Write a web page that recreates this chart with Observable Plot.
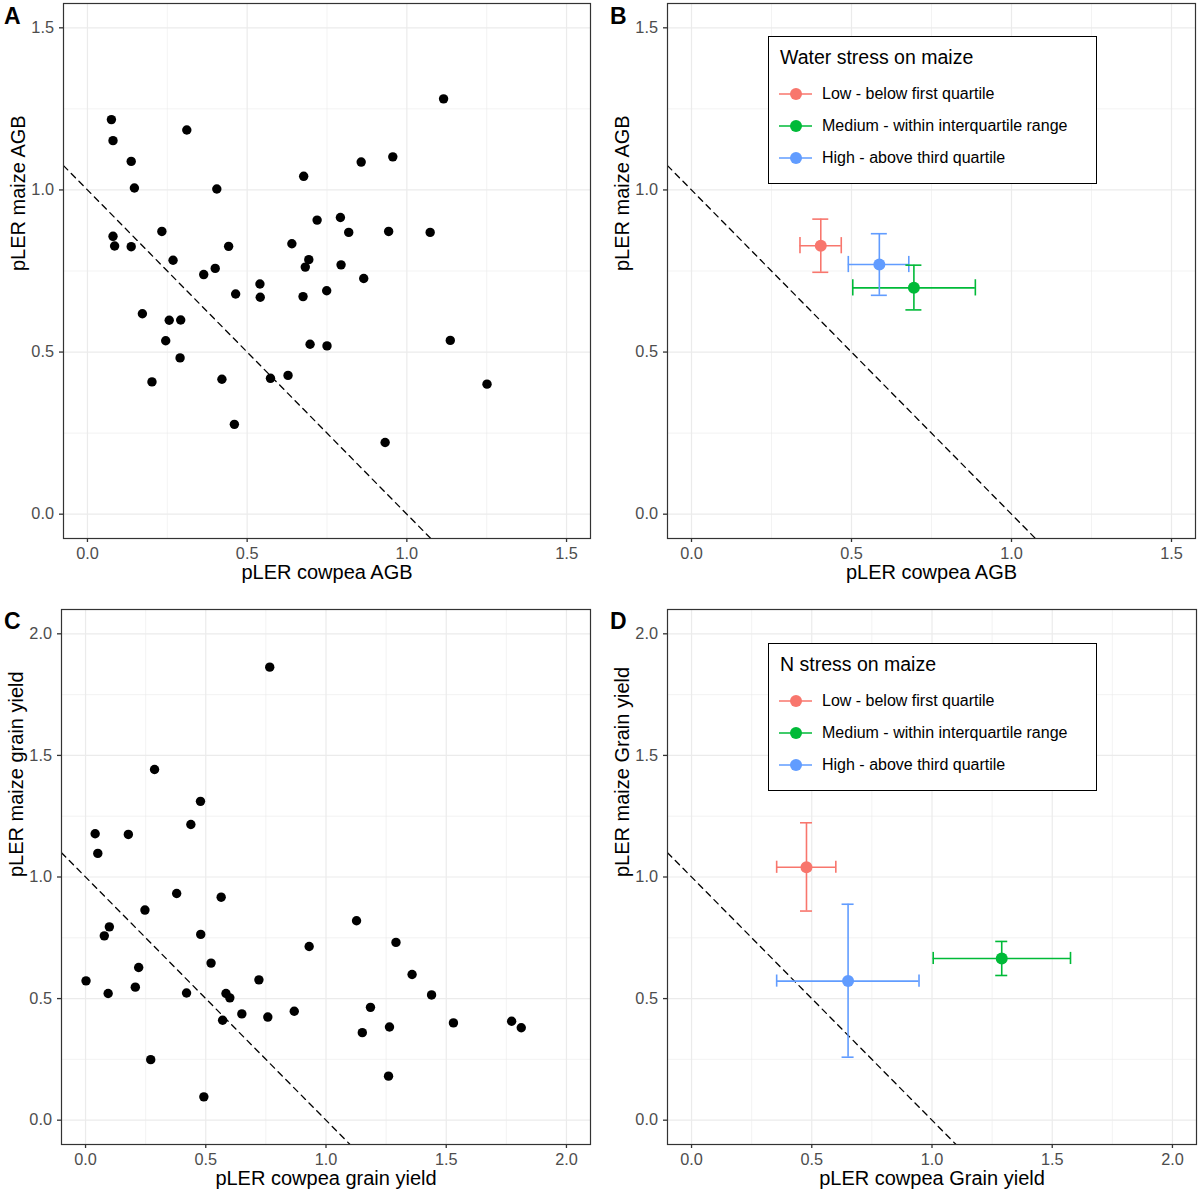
<!DOCTYPE html>
<html>
<head>
<meta charset="utf-8">
<script src="https://cdn.jsdelivr.net/npm/d3@7"></script>
<script src="https://cdn.jsdelivr.net/npm/@observablehq/plot@0.6"></script>
<style>
  html, body { margin: 0; padding: 0; background: #fff; }
  #root { position: relative; width: 1200px; height: 1197px; background: #fff; font-family: "Liberation Sans", Arial, sans-serif; }
  .pnl { position: absolute; }
  .letter { position: absolute; font-weight: bold; font-size: 23px; line-height: 1; color: #000; }
  .legend { position: absolute; border: 1.6px solid #000; background: #fff; box-sizing: border-box; }
  .legend .ttl { position: absolute; left: 11px; font-size: 19.5px; line-height: 1; }
  .legend .row { position: absolute; left: 8px; height: 20px; }
  .legend .row svg { position: absolute; left: 0; top: 0; }
  .legend .row span { position: absolute; left: 45px; top: 1px; font-size: 16px; line-height: 18px; white-space: nowrap; }
</style>
</head>
<body>
<div id="root"></div>
<script>
// ---------- data ----------
// Panel A: pLER cowpea AGB vs pLER maize AGB
const A_cowpea = [1.115,0.075,0.080,0.311,0.137,0.147,0.405,0.677,0.857,0.956,0.719,0.792,0.818,0.943,1.073,0.233,0.080,0.085,0.137,0.442,0.640,0.268,0.693,0.682,0.794,0.400,0.364,0.865,0.749,0.540,0.464,0.541,0.675,
                  0.172,0.256,0.292,0.245,0.290,0.202,0.421,0.573,0.628,0.697,0.750,1.136,1.251,0.460,0.932];
const A_maize  = [1.281,1.217,1.152,1.185,1.088,1.006,1.003,1.042,1.086,1.102,0.907,0.915,0.869,0.872,0.869,0.872,0.857,0.827,0.825,0.826,0.834,0.783,0.785,0.762,0.769,0.758,0.739,0.727,0.689,0.710,0.679,0.669,0.671,
                  0.618,0.598,0.599,0.535,0.482,0.408,0.416,0.419,0.428,0.524,0.519,0.536,0.401,0.277,0.221];

// Panel C: pLER cowpea grain yield vs pLER maize grain yield
const C_cowpea = [0.766,0.287,0.478,0.438,0.040,0.178,0.051,0.379,0.564,
                  0.247,0.099,0.078,0.479,1.127,0.930,1.291,0.522,0.221,1.358,0.002,0.721,0.207,0.094,0.420,0.584,0.600,1.439,1.185,0.650,0.868,0.758,0.570,1.530,1.264,1.151,1.772,1.812,0.271,1.260,0.492];
const C_maize  = [1.863,1.442,1.311,1.216,1.178,1.175,1.097,0.932,0.917,
                  0.864,0.795,0.758,0.764,0.820,0.714,0.731,0.646,0.628,0.599,0.573,0.577,0.547,0.521,0.523,0.521,0.503,0.515,0.464,0.437,0.448,0.424,0.411,0.400,0.383,0.360,0.407,0.380,0.249,0.181,0.096];

// Stress groups
const groups = ["Low - below first quartile", "Medium - within interquartile range", "High - above third quartile"];

// Panel B: water stress on maize (mean and error range)
const B_x   = [0.404, 0.695, 0.587];
const B_xlo = [0.339, 0.504, 0.490];
const B_xhi = [0.468, 0.887, 0.679];
const B_y   = [0.828, 0.698, 0.770];
const B_ylo = [0.746, 0.630, 0.675];
const B_yhi = [0.910, 0.768, 0.865];

// Panel D: N stress on maize
const D_x   = [0.478, 1.290, 0.651];
const D_xlo = [0.354, 1.005, 0.354];
const D_xhi = [0.600, 1.576, 0.946];
const D_y   = [1.040, 0.665, 0.572];
const D_ylo = [0.860, 0.595, 0.259];
const D_yhi = [1.223, 0.735, 0.888];

// axis ticks
const ticks15 = [0, 0.5, 1.0, 1.5];
const minor15 = [0.25, 0.75, 1.25];
const ticks20 = [0, 0.5, 1.0, 1.5, 2.0];
const minor20 = [0.25, 0.75, 1.25, 1.75];

// ---------- styles ----------
const hue = ["#F8766D", "#00BA38", "#619CFF"];
const FONT = '"Liberation Sans", Arial, sans-serif';

// ---------- helpers ----------
const pts = (xs, ys) => xs.map((x, i) => ({x, y: ys[i]}));
const summ = (x, xlo, xhi, y, ylo, yhi) => groups.map((g, i) => ({group: g, x: x[i], xlo: xlo[i], xhi: xhi[i], y: y[i], ylo: ylo[i], yhi: yhi[i]}));

function makePanel(o) {
  const intercept = 1, slope = -1;
  const abline = o.domain.map(x => ({x, y: intercept + slope * x}));
  const cap = 0.025;
  const marks = [
    Plot.gridX(o.minor, {stroke: "#ebebeb", strokeOpacity: 1, strokeWidth: 0.6}),
    Plot.gridY(o.minor, {stroke: "#ebebeb", strokeOpacity: 1, strokeWidth: 0.6}),
    Plot.gridX(o.major, {stroke: "#ebebeb", strokeOpacity: 1, strokeWidth: 1.2}),
    Plot.gridY(o.major, {stroke: "#ebebeb", strokeOpacity: 1, strokeWidth: 1.2}),
    Plot.line(abline, {x: "x", y: "y", stroke: "#000", strokeWidth: 1.3, strokeDasharray: "6,5", clip: true})
  ];
  if (o.points) {
    marks.push(Plot.dot(o.points, {x: "x", y: "y", r: 4.7, fill: "#000", stroke: "none"}));
  }
  if (o.summary) {
    const s = o.summary;
    const col = {stroke: "group", strokeWidth: 1.6};
    marks.push(
      Plot.ruleY(s, {y: "y", x1: "xlo", x2: "xhi", ...col}),
      Plot.ruleX(s, {x: "xlo", y1: d => d.y - cap, y2: d => d.y + cap, ...col}),
      Plot.ruleX(s, {x: "xhi", y1: d => d.y - cap, y2: d => d.y + cap, ...col}),
      Plot.ruleX(s, {x: "x", y1: "ylo", y2: "yhi", ...col}),
      Plot.ruleY(s, {y: "ylo", x1: d => d.x - cap, x2: d => d.x + cap, ...col}),
      Plot.ruleY(s, {y: "yhi", x1: d => d.x - cap, x2: d => d.x + cap, ...col}),
      Plot.dot(s, {x: "x", y: "y", r: 6, fill: "group", stroke: "none"})
    );
  }
  marks.push(
    Plot.frame({stroke: "#333", strokeWidth: 1.2}),
    Plot.axisX(o.major, {tickFormat: d3.format(".1f"), tickSize: 4, tickPadding: 4.5, strokeWidth: 1.3, fontSize: 16.3, fill: "#4d4d4d", stroke: "#333", label: null}),
    Plot.axisY(o.major, {tickFormat: d3.format(".1f"), tickSize: 4, tickPadding: 5.5, strokeWidth: 1.3, fontSize: 16.3, fill: "#4d4d4d", stroke: "#333", label: null}),
    Plot.text([o.xlabel], {text: d => d, frameAnchor: "bottom", dy: 40, fontSize: 20, fill: "#000"}),
    Plot.text([o.ylabel], {text: d => d, frameAnchor: "left", dx: -45, rotate: -90, fontSize: 20, fill: "#000"})
  );
  const p = Plot.plot({
    width: 600, height: o.height,
    marginLeft: o.ml, marginRight: o.mr, marginTop: o.mt, marginBottom: o.mb,
    x: {domain: o.domain, label: null},
    y: {domain: o.domain, label: null},
    color: {domain: groups, range: hue},
    style: {fontFamily: FONT, background: "transparent", overflow: "visible"},
    marks
  });
  const wrap = document.createElement("div");
  wrap.className = "pnl";
  wrap.style.left = o.left + "px";
  wrap.style.top = o.top + "px";
  wrap.appendChild(p);
  return wrap;
}

function makeLegend(title, left, top) {
  const box = document.createElement("div");
  box.className = "legend";
  Object.assign(box.style, {left: left + "px", top: top + "px", width: "329px", height: "148px"});
  const t = document.createElement("div");
  t.className = "ttl";
  t.style.top = "11px";
  t.textContent = title;
  box.appendChild(t);
  groups.forEach((g, i) => {
    const row = document.createElement("div");
    row.className = "row";
    row.style.top = (47 + i * 32) + "px";
    row.innerHTML = `<svg width="40" height="20"><line x1="2" x2="35" y1="10" y2="10" stroke="${hue[i]}" stroke-width="1.6"/><circle cx="19" cy="10" r="6" fill="${hue[i]}"/></svg><span>${g}</span>`;
    box.appendChild(row);
  });
  return box;
}

function letter(ch, left, top) {
  const d = document.createElement("div");
  d.className = "letter";
  d.style.left = left + "px";
  d.style.top = top + "px";
  d.textContent = ch;
  return d;
}

// ---------- build ----------
const root = document.getElementById("root");
const dom15 = [-0.075, 1.575];
const dom20 = [-0.1, 2.1];

root.appendChild(makePanel({left: 0, top: 0, height: 598, ml: 63, mr: 10, mt: 3, mb: 60,
  domain: dom15, major: ticks15, minor: minor15, points: pts(A_cowpea, A_maize),
  xlabel: "pLER cowpea AGB", ylabel: "pLER maize AGB"}));
root.appendChild(makePanel({left: 600, top: 0, height: 598, ml: 67, mr: 5, mt: 3, mb: 60,
  domain: dom15, major: ticks15, minor: minor15, summary: summ(B_x, B_xlo, B_xhi, B_y, B_ylo, B_yhi),
  xlabel: "pLER cowpea AGB", ylabel: "pLER maize AGB"}));
root.appendChild(makePanel({left: 0, top: 598, height: 599, ml: 61, mr: 10, mt: 11, mb: 53,
  domain: dom20, major: ticks20, minor: minor20, points: pts(C_cowpea, C_maize),
  xlabel: "pLER cowpea grain yield", ylabel: "pLER maize grain yield"}));
root.appendChild(makePanel({left: 600, top: 598, height: 599, ml: 67, mr: 4, mt: 11, mb: 53,
  domain: dom20, major: ticks20, minor: minor20, summary: summ(D_x, D_xlo, D_xhi, D_y, D_ylo, D_yhi),
  xlabel: "pLER cowpea Grain yield", ylabel: "pLER maize Grain yield"}));

root.appendChild(makeLegend("Water stress on maize", 768, 36));
root.appendChild(makeLegend("N stress on maize", 768, 643));

root.appendChild(letter("A", 4, 5));
root.appendChild(letter("B", 610, 5));
root.appendChild(letter("C", 4, 610));
root.appendChild(letter("D", 610, 610));
</script>
</body>
</html>
